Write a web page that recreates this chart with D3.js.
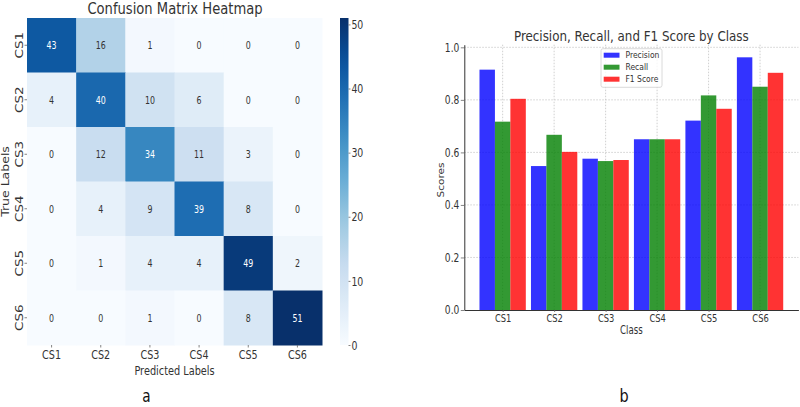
<!DOCTYPE html>
<html>
<head>
<meta charset="utf-8">
<script src="https://cdn.jsdelivr.net/npm/d3@7"></script>
<style>
  body { margin: 0; background: #fff; }
  svg { display: block; font-family: "DejaVu Sans", sans-serif; }
</style>
</head>
<body>
<div id="chart"></div>
<script>
// data
const classes = ["CS1", "CS2", "CS3", "CS4", "CS5", "CS6"];
const matrix = [
  [43, 16, 1, 0, 0, 0],
  [4, 40, 10, 6, 0, 0],
  [0, 12, 34, 11, 3, 0],
  [0, 4, 9, 39, 8, 0],
  [0, 1, 4, 4, 49, 2],
  [0, 0, 1, 0, 8, 51]
];
const colorbarTicks = [0, 10, 20, 30, 40, 50];
const precision = [0.915, 0.548, 0.576, 0.650, 0.721, 0.962];
const recall = [0.717, 0.667, 0.567, 0.650, 0.817, 0.850];
const f1Score = [0.804, 0.602, 0.571, 0.650, 0.766, 0.903];
const scoreTicks = [0, 0.2, 0.4, 0.6, 0.8, 1.0];

const width = 800;
const height = 407;
const textColor = "#333";

const svg = d3.select("#chart")
  .append("svg")
  .attr("width", width)
  .attr("height", height);

// the picture is squeezed horizontally, so every text gets an x scale
function addText(g, x, y, str, size, opts = {}) {
  const sx = opts.sx || 0.75;
  const rot = opts.rotate ? " rotate(-90)" : "";
  return g.append("text")
    .attr("transform", `translate(${x},${y}) scale(${sx},1)${rot}`)
    .attr("text-anchor", opts.anchor || "middle")
    .style("font-size", size + "px")
    .style("fill", opts.color || textColor)
    .text(str);
}

function squeezeTicks(axisG, size, sx) {
  axisG.attr("font-family", null).attr("font-size", null);
  axisG.selectAll(".tick text")
    .style("font-size", size + "px")
    .style("fill", textColor)
    .attr("transform", `scale(${sx},1)`);
  axisG.selectAll(".tick line").attr("stroke", "#666").attr("stroke-width", 0.8);
}

// ---------- a: confusion matrix heatmap ----------
const blues = ["#f7fbff", "#deebf7", "#c6dbef", "#9ecae1", "#6baed6",
  "#4292c6", "#2171b5", "#08519c", "#08306b"];
const color = d3.scaleSequential(d3.piecewise(d3.interpolateRgb, blues))
  .domain([0, 51]);

const hx = d3.scaleBand().domain(classes).range([27, 322]);
const hy = d3.scaleBand().domain(classes).range([18, 345]);

function luminance(c) {
  const rgb = d3.rgb(c);
  const lin = v => {
    v /= 255;
    return v <= 0.03928 ? v / 12.92 : Math.pow((v + 0.055) / 1.055, 2.4);
  };
  return 0.2126 * lin(rgb.r) + 0.7152 * lin(rgb.g) + 0.0722 * lin(rgb.b);
}

const heat = svg.append("g");
const cells = [];
matrix.forEach((row, i) => row.forEach((v, j) => cells.push({ r: classes[i], c: classes[j], v })));

heat.selectAll("rect.cell")
  .data(cells)
  .enter()
  .append("rect")
  .attr("class", "cell")
  .attr("x", d => hx(d.c))
  .attr("y", d => hy(d.r))
  .attr("width", hx.bandwidth() + 0.5)
  .attr("height", hy.bandwidth() + 0.5)
  .attr("fill", d => color(d.v));

cells.forEach(d => {
  addText(heat, hx(d.c) + hx.bandwidth() / 2, hy(d.r) + hy.bandwidth() / 2 + 3.8, d.v, 10.5,
    { color: luminance(color(d.v)) > 0.408 ? "#333" : "#fff" });
});

// heatmap axes
const hxAxis = heat.append("g")
  .attr("transform", "translate(0,345)")
  .call(d3.axisBottom(hx).tickSize(2.5).tickPadding(2));
hxAxis.select(".domain").remove();
squeezeTicks(hxAxis, 13, 0.74);

const hyAxis = heat.append("g")
  .attr("transform", "translate(27,0)")
  .call(d3.axisLeft(hy).tickSize(2.5));
hyAxis.select(".domain").remove();
squeezeTicks(hyAxis, 13.5, 0.8);
hyAxis.selectAll(".tick text")
  .attr("x", null)
  .attr("dy", null)
  .attr("text-anchor", "middle")
  .attr("transform", "translate(-4.5,0) scale(0.8,1) rotate(-90)");

addText(heat, 175, 14, "Confusion Matrix Heatmap", 16, { sx: 0.82 });
addText(heat, 174.5, 375, "Predicted Labels", 13);
addText(heat, 9, 181.5, "True Labels", 12.5, { rotate: true, sx: 0.85 });
addText(svg, 146.5, 402, "a", 17, { color: "#111", sx: 0.8 });

// colorbar
const cScale = d3.scaleLinear().domain([0, 51]).range([345, 18]);
const defs = svg.append("defs");
const grad = defs.append("linearGradient")
  .attr("id", "cbar")
  .attr("x1", 0).attr("y1", 1).attr("x2", 0).attr("y2", 0);
grad.selectAll("stop")
  .data(d3.range(0, 1.0001, 0.05))
  .enter()
  .append("stop")
  .attr("offset", d => d)
  .attr("stop-color", d => color(d * 51));

svg.append("rect")
  .attr("x", 340)
  .attr("y", cScale(51))
  .attr("width", 8.5)
  .attr("height", cScale(0) - cScale(51))
  .attr("fill", "url(#cbar)");

const cAxis = svg.append("g")
  .attr("transform", "translate(348.5,0)")
  .call(d3.axisRight(cScale).tickValues(colorbarTicks).tickSize(2).tickPadding(2));
cAxis.select(".domain").remove();
squeezeTicks(cAxis, 13, 0.72);

// ---------- b: precision / recall / f1 bars ----------
const bx = d3.scaleLinear().domain([-0.745, 5.745]).range([464.3, 798.4]);
const by = d3.scaleLinear().domain([0, 1.01]).range([310, 44.7]);
const barW = 0.3;

const series = [
  { name: "Precision", values: precision, fill: "blue", offset: -barW },
  { name: "Recall", values: recall, fill: "green", offset: 0 },
  { name: "F1 Score", values: f1Score, fill: "red", offset: barW }
];

const bars = svg.append("g");

// dotted grid
bars.selectAll("line.gy")
  .data(scoreTicks.slice(1))
  .enter()
  .append("line")
  .attr("x1", bx(-0.745)).attr("x2", bx(5.745))
  .attr("y1", d => by(d)).attr("y2", d => by(d))
  .attr("stroke", "#c4c4c4")
  .attr("stroke-width", 0.8)
  .attr("stroke-dasharray", "1.5,1.5");
bars.selectAll("line.gx")
  .data(d3.range(classes.length))
  .enter()
  .append("line")
  .attr("x1", d => bx(d)).attr("x2", d => bx(d))
  .attr("y1", by(1.01)).attr("y2", by(0))
  .attr("stroke", "#c4c4c4")
  .attr("stroke-width", 0.8)
  .attr("stroke-dasharray", "1.5,1.5");

series.forEach(s => {
  bars.selectAll(null)
    .data(s.values)
    .enter()
    .append("rect")
    .attr("x", (d, i) => bx(i + s.offset - barW / 2))
    .attr("y", d => by(d))
    .attr("width", bx(barW) - bx(0))
    .attr("height", d => by(0) - by(d))
    .attr("fill", s.fill)
    .attr("fill-opacity", 0.8);
});

const byAxis = bars.append("g")
  .attr("transform", `translate(${bx(-0.745)},0)`)
  .call(d3.axisLeft(by).tickValues(scoreTicks).tickFormat(d3.format(".1f"))
    .tickSize(3.5).tickSizeOuter(0).tickPadding(3));
squeezeTicks(byAxis, 12, 0.76);
byAxis.select(".domain").attr("stroke", "#333");

const bxAxis = bars.append("g")
  .attr("transform", `translate(0,${by(0)})`)
  .call(d3.axisBottom(bx).tickValues(d3.range(classes.length)).tickFormat(i => classes[i])
    .tickSize(2).tickSizeOuter(0).tickPadding(2.5));
squeezeTicks(bxAxis, 11, 0.76);
bxAxis.select(".domain").attr("stroke", "#333");

addText(bars, 631.3, 40.5, "Precision, Recall, and F1 Score by Class", 14, { sx: 0.85 });
addText(bars, 631.3, 334, "Class", 11.5);
addText(bars, 443.5, 180, "Scores", 10.5, { rotate: true, sx: 0.78 });
addText(svg, 624, 402, "b", 18, { color: "#111", sx: 0.8 });

// legend
const legend = bars.append("g").attr("transform", "translate(601,48.7)");
legend.append("rect")
  .attr("width", 61)
  .attr("height", 38.6)
  .attr("rx", 2)
  .attr("fill", "#fff")
  .attr("fill-opacity", 0.8)
  .attr("stroke", "#d0d0d0")
  .attr("stroke-width", 0.8);

series.forEach((s, i) => {
  const item = legend.append("g").attr("transform", `translate(0,${6.5 + i * 12})`);
  item.append("rect")
    .attr("x", 2.7)
    .attr("y", -2.5)
    .attr("width", 15.8)
    .attr("height", 5)
    .attr("fill", s.fill)
    .attr("fill-opacity", 0.8);
  addText(item, 24.5, 3.2, s.name, 9.5, { anchor: "start", sx: 0.8 });
});
</script>
</body>
</html>
